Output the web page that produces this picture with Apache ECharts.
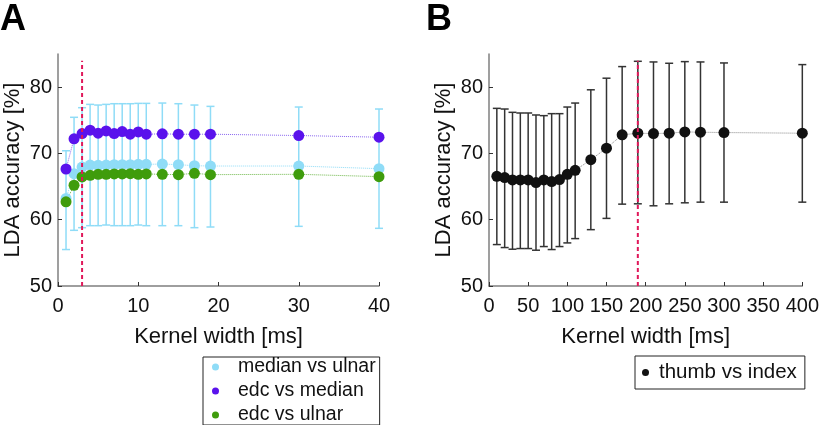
<!DOCTYPE html>
<html>
<head>
<meta charset="utf-8">
<script src="https://cdn.jsdelivr.net/npm/echarts@6/dist/echarts.min.js"></script>
<style>
  html, body { margin: 0; padding: 0; background: #fff; }
  #chart { width: 822px; height: 425px; }
</style>
</head>
<body>
<div id="chart"></div>
<script>
// panel A: kernel width [ms]
const kernelA = [1, 2, 3, 4, 5, 6, 7, 8, 9, 10, 11, 13, 15, 17, 19, 30, 40]
const medianUlnar = [63.2, 66.95, 67.95, 68.25, 68.2, 68.25, 68.3, 68.3, 68.3, 68.35, 68.35, 68.4, 68.3, 68.15, 68.1, 68.1, 67.7]
const medianUlnarLow = [55.5, 58.4, 58.8, 59.1, 59.1, 59.2, 59.1, 59.1, 59.1, 59.2, 59.1, 59.1, 59.1, 58.8, 58.9, 59.0, 58.7]
const medianUlnarHigh = [70.4, 75.45, 76.9, 77.4, 77.3, 77.4, 77.5, 77.5, 77.5, 77.55, 77.55, 77.6, 77.5, 77.3, 77.1, 77.0, 76.7]
const edcMedian = [67.65, 72.2, 73.0, 73.5, 73.05, 73.4, 73.0, 73.3, 72.9, 73.25, 72.9, 72.95, 72.9, 72.9, 72.9, 72.7, 72.45]
const edcUlnar = [62.7, 65.2, 66.45, 66.7, 66.85, 66.85, 66.9, 66.9, 66.95, 66.85, 66.9, 66.85, 66.8, 67.0, 66.8, 66.85, 66.5]
const cutA = 3

// panel B
const kernelB = [10, 20, 30, 40, 50, 60, 70, 80, 90, 100, 110, 130, 150, 170, 190, 210, 230, 250, 270, 300, 400]
const thumbIndex = [66.55, 66.35, 66.0, 66.0, 66.0, 65.6, 66.0, 65.75, 66.05, 66.85, 67.45, 69.05, 70.8, 72.8, 73.05, 73.0, 73.05, 73.25, 73.2, 73.15, 73.05]
const thumbIndexLow = [56.25, 55.8, 55.55, 55.65, 55.65, 55.4, 55.95, 55.5, 55.95, 56.5, 57.15, 58.5, 60.2, 62.35, 62.4, 62.1, 62.4, 62.55, 62.65, 62.65, 62.65]
const thumbIndexHigh = [76.8, 76.7, 76.2, 76.1, 76.1, 75.8, 75.7, 76.0, 76.0, 77.0, 77.6, 79.6, 81.35, 83.1, 83.9, 83.8, 83.6, 83.85, 83.8, 83.65, 83.4]
const cutB = 190

const yTicks = [50, 60, 70, 80]

const FONT = 'Liberation Sans, Arial, sans-serif'
const axisGray = '#7f7f7f'
const cCyan = '#8fdcf7'
const cPurple = '#5a12ec'
const cGreen = '#3f9c0c'
const cRed = '#e0185a'

const chart = echarts.init(document.getElementById('chart'))

const errorBars = (xIdx, xs, lo, hi, color) => ({
  type: 'custom',
  xAxisIndex: xIdx,
  yAxisIndex: xIdx,
  z: 1,
  data: xs.map((x, i) => [x, lo[i], hi[i]]),
  renderItem: (params, api) => {
    const top = api.coord([api.value(0), api.value(2)])
    const bot = api.coord([api.value(0), api.value(1)])
    const w = 4
    const style = { stroke: color, lineWidth: 1.5 }
    return {
      type: 'group',
      children: [
        { type: 'line', shape: { x1: top[0], y1: top[1], x2: bot[0], y2: bot[1] }, style },
        { type: 'line', shape: { x1: top[0] - w, y1: top[1], x2: top[0] + w, y2: top[1] }, style },
        { type: 'line', shape: { x1: bot[0] - w, y1: bot[1], x2: bot[0] + w, y2: bot[1] }, style }
      ]
    }
  }
})

const dotSeries = (name, xIdx, xs, ys, color, lineColor) => ({
  name,
  type: 'line',
  xAxisIndex: xIdx,
  yAxisIndex: xIdx,
  z: 3,
  data: xs.map((x, i) => [x, ys[i]]),
  symbol: 'circle',
  symbolSize: 11,
  itemStyle: { color },
  lineStyle: { color: lineColor, width: 1, type: 'dotted' },
  emphasis: { disabled: true }
})

const cutLine = (xIdx, x) => ({
  type: 'line',
  xAxisIndex: xIdx,
  yAxisIndex: xIdx,
  z: 5,
  data: [[x, 50], [x, 84]],
  symbol: 'none',
  lineStyle: { color: cRed, width: 2, type: [4, 3] },
  silent: true
})

const xAxisBase = (idx, max, interval) => ({
  gridIndex: idx,
  type: 'value',
  min: 0,
  max,
  interval,
  name: 'Kernel width [ms]',
  nameLocation: 'middle',
  nameGap: 40,
  nameTextStyle: { fontFamily: FONT, fontSize: 22, color: '#111' },
  axisLine: { show: true, lineStyle: { color: axisGray, width: 1.5 } },
  axisTick: { show: true, inside: true, length: 4, lineStyle: { color: '#333' } },
  axisLabel: { fontFamily: FONT, fontSize: 20, color: '#111', margin: 10 },
  splitLine: { show: false }
})

const yAxisBase = (idx) => ({
  gridIndex: idx,
  type: 'value',
  min: 50,
  max: 85,
  interval: 10,
  name: 'LDA accuracy [%]',
  nameLocation: 'middle',
  nameGap: 34,
  nameTextStyle: { fontFamily: FONT, fontSize: 22, color: '#111' },
  axisLine: { show: true, lineStyle: { color: axisGray, width: 1.5 } },
  axisTick: { show: true, inside: true, length: 4, customValues: yTicks, lineStyle: { color: '#333' } },
  axisLabel: { fontFamily: FONT, fontSize: 20, color: '#111', margin: 6, customValues: yTicks },
  splitLine: { show: false }
})

chart.setOption({
  animation: false,
  backgroundColor: '#fff',
  title: [
    { text: 'A', left: 0, top: 2, padding: 0, textStyle: { fontFamily: FONT, fontSize: 36, fontWeight: 'bold', color: '#000' } },
    { text: 'B', left: 426, top: 2, padding: 0, textStyle: { fontFamily: FONT, fontSize: 36, fontWeight: 'bold', color: '#000' } }
  ],
  grid: [
    { left: 58, top: 54, width: 321, height: 232 },
    { left: 489, top: 54, width: 317, height: 232 }
  ],
  xAxis: [xAxisBase(0, 40, 10), xAxisBase(1, 400, 50)],
  yAxis: [yAxisBase(0), yAxisBase(1)],
  legend: [
    {
      data: ['median vs ulnar', 'edc vs median', 'edc vs ulnar'],
      orient: 'vertical',
      left: 203,
      top: 357,
      padding: [0, 4, 0, 9],
      itemGap: 4,
      itemWidth: 7,
      itemHeight: 7,
      icon: 'circle',
      borderColor: '#222',
      borderWidth: 1,
      borderRadius: 0,
      textStyle: { fontFamily: FONT, fontSize: 19.5, lineHeight: 19, color: '#111', padding: [0, 0, 0, 14] }
    },
    {
      data: ['thumb vs index'],
      left: 635,
      top: 356,
      padding: [6, 8, 6, 7],
      itemWidth: 7,
      itemHeight: 7,
      icon: 'circle',
      borderColor: '#222',
      borderWidth: 1,
      borderRadius: 0,
      textStyle: { fontFamily: FONT, fontSize: 20.5, lineHeight: 19, color: '#111', padding: [0, 0, 0, 5] }
    }
  ],
  series: [
    errorBars(0, kernelA, medianUlnarLow, medianUlnarHigh, cCyan),
    dotSeries('median vs ulnar', 0, kernelA, medianUlnar, cCyan, cCyan),
    dotSeries('edc vs median', 0, kernelA, edcMedian, cPurple, '#8a66f0'),
    dotSeries('edc vs ulnar', 0, kernelA, edcUlnar, cGreen, '#6fb84a'),
    cutLine(0, cutA),
    errorBars(1, kernelB, thumbIndexLow, thumbIndexHigh, '#333'),
    dotSeries('thumb vs index', 1, kernelB, thumbIndex, '#111', '#888'),
    cutLine(1, cutB)
  ]
})
</script>
</body>
</html>
